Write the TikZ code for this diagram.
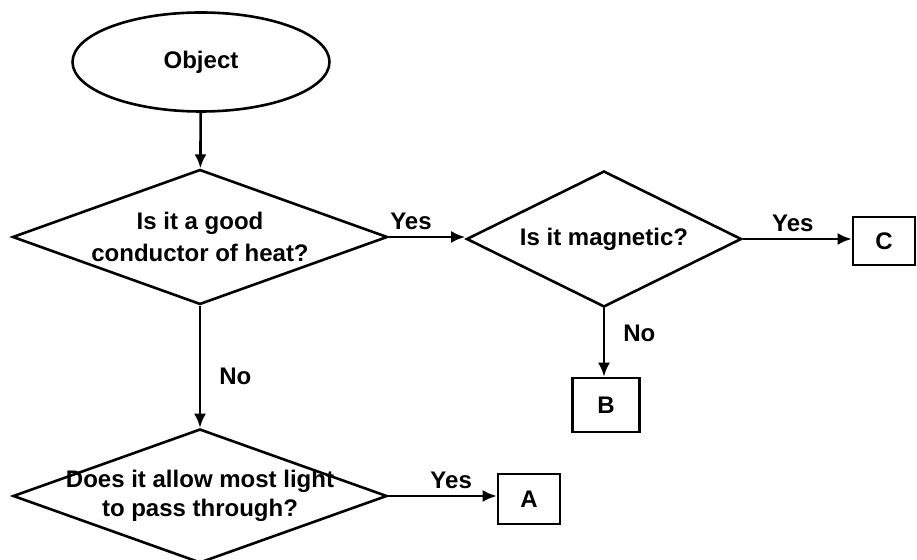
\documentclass[tikz,border=0pt]{standalone}
\usepackage{fontspec}
\setmainfont{Liberation Sans}
\usetikzlibrary{shapes.geometric,arrows.meta}
\begin{document}
\begin{tikzpicture}[x=.5pt,y=-.5pt,line width=1.3pt,
     font=\bfseries\fontsize{12}{14.5}\selectfont,
     >={Latex[length=7pt,width=6pt]},
     start/.style={ellipse,draw,minimum width=128.5pt,minimum height=49.5pt},
     decision/.style={diamond,draw,align=center,aspect=2.8,inner sep=0pt},
     result/.style={rectangle,draw,minimum width=31pt,minimum height=25pt},
     yes/.style={above=1pt,inner sep=2pt},
     no/.style={right=7pt,inner sep=2pt}]
  \useasboundingbox (0,0) rectangle (917,560);
  % shapes
  \node[start] (obj) at (201,62) {Object};
  \node[decision,minimum width=187.5pt,minimum height=67.5pt] (heat) at (200,237)
       {Is it a good\\[1.5pt]conductor of heat?};
  \node[decision,minimum width=137.5pt,minimum height=68pt] (magnet) at (604,239)
       {Is it magnetic?};
  \node[decision,minimum width=187pt,minimum height=67pt,inner xsep=-12pt] (light) at (200,496)
       {Does it allow most light\\to pass through?};
  \node[result] (A) at (529,499) {A};
  \node[result,minimum width=33.5pt,minimum height=27pt] (B) at (606,405) {B};
  \node[result,minimum height=24pt] (C) at (884,241) {C};
  % arrows
  \draw[->] (obj) -- (heat);
  \draw[->] (heat.east) -- node[yes,pos=.29] {Yes} (heat.east -| magnet.west);
  \draw[->] (magnet.east) -- node[yes,pos=.46] {Yes} (magnet.east -| C.west);
  \draw[->] (magnet) -- node[no,pos=.37] {No} (magnet |- B.north);
  \draw[->] (heat) -- node[no,pos=.58] {No} (light);
  \draw[->] (light.east) -- node[yes,pos=.58] {Yes} (light.east -| A.west);
\end{tikzpicture}
\end{document}
